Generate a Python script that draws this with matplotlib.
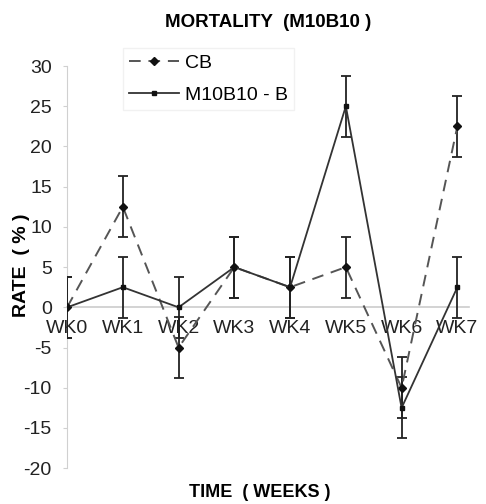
import matplotlib.pyplot as plt

# Data
weeks = ['WK0', 'WK1', 'WK2', 'WK3', 'WK4', 'WK5', 'WK6', 'WK7']
cb = [0, 12.5, -5, 5, 2.5, 5, -10, 22.5]
cb_err = [3.8, 3.8, 3.8, 3.8, 3.8, 3.8, 3.8, 3.8]
m10b10 = [0, 2.5, 0, 5, 2.5, 25, -12.5, 2.5]
m10b10_err = [3.8, 3.8, 3.8, 3.8, 3.8, 3.8, 3.8, 3.8]
yticks = [-20, -15, -10, -5, 0, 5, 10, 15, 20, 25, 30]

plt.rcParams['font.family'] = ['Liberation Sans', 'DejaVu Sans']

fig = plt.figure(figsize=(4.86, 5.04), dpi=100)
ax = fig.add_axes([0.138, 0.071, 0.826, 0.798])
x = list(range(len(weeks)))

# spine position first, it resets the tick labels
for side in ['top', 'right']:
    ax.spines[side].set_visible(False)
ax.spines['bottom'].set_position(('data', 0))
ax.spines['bottom'].set_color('#cccccc')
ax.spines['bottom'].set_linewidth(1.2)
ax.spines['left'].set_color('#d0d0d0')

# CB series: dashed with diamonds
ax.errorbar(x, cb, yerr=cb_err, fmt='none', ecolor='#222222', elinewidth=1.3,
            capsize=3.6, capthick=1.3, zorder=3)
ax.plot(x, cb, linestyle=(0, (6, 4)), color='#555555', linewidth=1.4,
        marker='D', markersize=4.5, markerfacecolor='#111111',
        markeredgecolor='#111111', label='CB', zorder=4)

# M10B10 - B series: solid with small squares
ax.errorbar(x, m10b10, yerr=m10b10_err, fmt='none', ecolor='#222222', elinewidth=1.3,
            capsize=3.6, capthick=1.3, zorder=3)
ax.plot(x, m10b10, linestyle='-', color='#333333', linewidth=1.3,
        marker='s', markersize=3.5, markerfacecolor='#111111',
        markeredgecolor='#111111', label='M10B10 - B', zorder=4)

ax.set_xlim(0, 7.2)
ax.set_ylim(-20, 30)
ax.set_yticks(yticks)
ax.set_yticklabels([str(v) for v in yticks], fontsize=14)
ax.set_xticks(x)
ax.set_xticklabels(weeks, fontsize=14)

ax.tick_params(axis='x', length=0, pad=9, colors='#222222')
ax.tick_params(axis='y', length=3, color='#d0d0d0', labelcolor='#222222', pad=8)

ax.set_title('MORTALITY  (M10B10 )', fontsize=13.5, fontweight='bold', pad=28)
ax.set_xlabel('TIME  ( WEEKS )', fontsize=13, fontweight='bold')
ax.xaxis.set_label_coords(0.48, -0.04)
ax.set_ylabel('RATE  ( % )', fontsize=14, fontweight='bold')
ax.yaxis.set_label_coords(-0.092, 0.505)

leg = ax.legend(loc='upper left', bbox_to_anchor=(0.115, 1.068), fontsize=14,
                frameon=True, fancybox=False, handlelength=2.6,
                borderpad=0.3, labelspacing=0.75, handletextpad=0.3)
leg.get_frame().set_edgecolor('#eeeeee')
leg.get_frame().set_linewidth(1.0)

fig.savefig('out.png', dpi=100)
